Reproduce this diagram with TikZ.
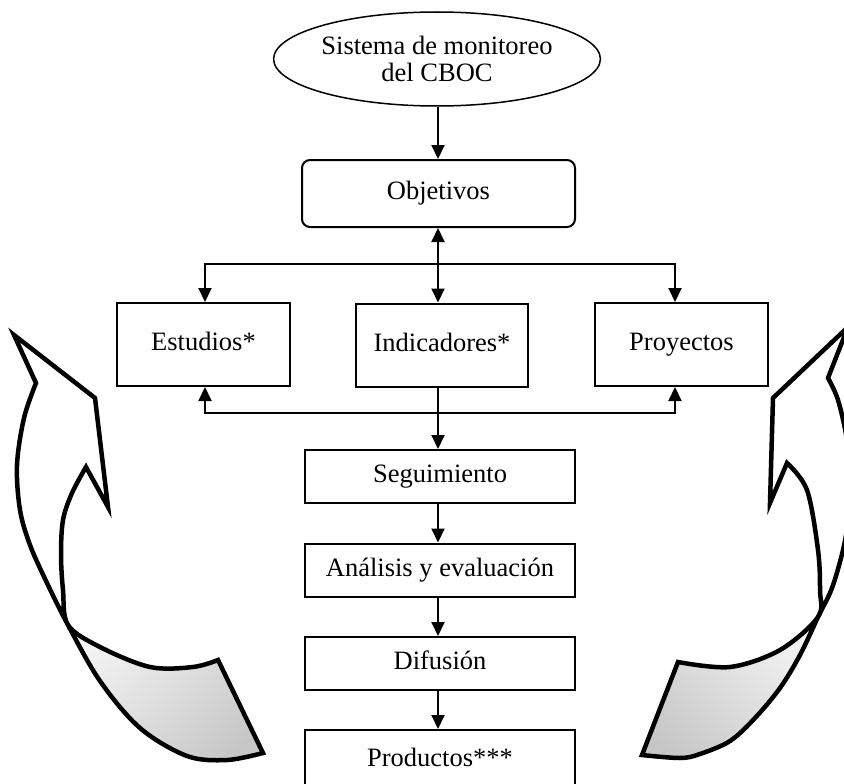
\documentclass[tikz,border=0pt]{standalone}
\usepackage{fontspec}
\setmainfont{Liberation Serif}
\usetikzlibrary{arrows.meta,shapes.geometric}
\begin{document}
\begin{tikzpicture}[x=1pt,y=-1pt,
  txt/.style={font=\fontsize{26.5}{27}\selectfont},
  box/.style={txt, draw, line width=2pt, inner sep=0pt, text height=18pt, text depth=6pt},
  sidebox/.style={box, minimum width=173pt, minimum height=83pt},
  flowbox/.style={box, minimum width=270pt, minimum height=53pt},
  conn/.style={line width=2pt, -{Triangle[width=13pt,length=14pt]}},
  dconn/.style={line width=2pt, {Triangle[width=13pt,length=14pt]}-{Triangle[width=13pt,length=14pt]}},
  bigarrow/.style={line width=4.5pt, line join=miter, miter limit=6}
]
\useasboundingbox (0,0) rectangle (844,784);

% ---------- big curved arrows ----------
\def\LArrPath{(14,335) -- (36,383) -- plot[smooth,tension=0.55] coordinates {(36,383) (24,418) (17,465) (20,510) (30,545) (47,583) (68,625) (100,681) (140,728) (187,756) (227,760) (263,753)} -- (218,660) -- plot[smooth,tension=0.55] coordinates {(218,660) (193,667) (150,667) (100,647) (68,625) (63,590) (61,555) (63,520) (72,493) (86,467)} -- (108,507) -- (95,398) -- cycle}
\def\RArrPath{(848,327) -- (828,378) -- plot[smooth,tension=0.55] coordinates {(828,378) (838,400) (847,440) (850,480) (848,520) (843,550) (832,588) (818,617) (800,655) (780,688) (755,718) (730,741) (700,754) (680,758) (642,755)} -- (678,662) -- plot[smooth,tension=0.55] coordinates {(678,662) (730,667) (780,650) (818,617) (820,590) (818,550) (807,490) (787,463)} -- (770,503) -- (773,398) -- cycle}

\begin{scope}
  \clip \LArrPath;
  \fill[white] (0,300) rectangle (300,625);
  \shade[top color=gray!8, bottom color=gray!45, shading angle=45] (55,620) rectangle (275,770);
\end{scope}
\draw[bigarrow] \LArrPath;

\begin{scope}
  \clip \RArrPath;
  \fill[white] (600,300) rectangle (860,617);
  \shade[top color=gray!8, bottom color=gray!45, shading angle=-45] (630,612) rectangle (830,770);
\end{scope}
\draw[bigarrow] \RArrPath;

% ---------- nodes ----------
\node[ellipse, draw, line width=1.5pt, minimum width=310pt, minimum height=94pt, inner sep=0pt, align=center, txt] (ell) at (437,59) {Sistema de monitoreo\\del CBOC};
\node[box, rounded corners=8pt, minimum width=273pt, minimum height=67pt] (obj) at (438.5,193.5) {Objetivos};
\node[sidebox] (est) at (203.5,344.5) {Estudios*};
\node[sidebox, minimum width=172pt] (ind) at (442,345) {Indicadores*};
\node[sidebox] (pro) at (681.5,344.5) {Proyectos};
\node[flowbox] (seg) at (440,476.5) {Seguimiento};
\node[flowbox] (ana) at (440,570) {Análisis y evaluación};
\node[flowbox] (dif) at (440,663.5) {Difusión};
\node[flowbox, minimum height=60pt] (prod) at (440,760) {Productos***};

% ---------- connectors ----------
\coordinate (tl) at (205,264);
\coordinate (tr) at (675,264);
\coordinate (bl) at (205,413);
\coordinate (br) at (675,413);
\coordinate (cx) at (438,0);

\draw[conn] (ell.south -| cx) -- (cx |- obj.north);
\draw[dconn] (cx |- obj.south) -- (cx |- ind.north);
\draw[conn] (tr) -- (tl) -- (tl |- est.north);
\draw[conn] (tl) -- (tr) -- (tr |- pro.north);
\draw[conn] (br) -- (bl) -- (bl |- est.south);
\draw[conn] (bl) -- (br) -- (br |- pro.south);
\draw[conn] (cx |- ind.south) -- (cx |- seg.north);
\draw[conn] (cx |- seg.south) -- (cx |- ana.north);
\draw[conn] (cx |- ana.south) -- (cx |- dif.north);
\draw[conn] (cx |- dif.south) -- (cx |- prod.north);
\end{tikzpicture}
\end{document}
